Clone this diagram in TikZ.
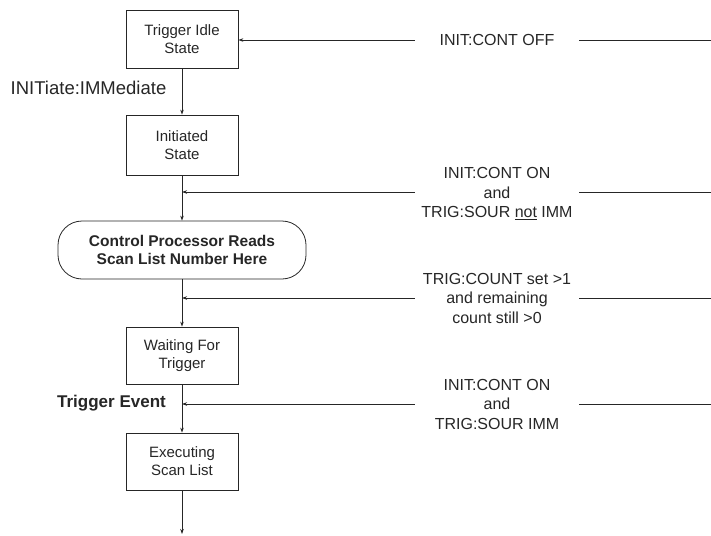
\documentclass[tikz,border=0pt]{standalone}
\usepackage{fontspec}
\setmainfont{Liberation Sans}
\usetikzlibrary{arrows.meta}
\definecolor{ink}{gray}{0.15}
\tikzset{
  stbox/.style={draw=ink, line width=0.8pt, minimum width=112pt, minimum height=58pt,
    align=center, inner sep=0pt, text=ink, font=\fontsize{15}{18}\selectfont},
  procbox/.style={draw=ink, line width=0.8pt, rounded corners=24pt, minimum width=248pt,
    minimum height=58pt, align=center, inner sep=0pt, text=ink, font=\bfseries\fontsize{15.5}{18}\selectfont},
  cond/.style={align=center, inner sep=0pt, minimum width=164pt, text=ink,
    font=\fontsize{16}{19.5}\selectfont},
  sidelab/.style={inner sep=0pt, text=ink},
  flow/.style={draw=ink, line width=0.7pt},
  arr/.style={flow, -{Stealth[length=5pt,width=3.5pt]}}
}
\begin{document}
\begin{tikzpicture}[x=1pt,y=-1pt]
\useasboundingbox (0,0) rectangle (711,535);
% states
\node[stbox] (idle) at (182,39.5) {Trigger Idle\\State};
\node[stbox, minimum height=60pt] (init) at (182,145) {Initiated\\State};
\node[procbox] (proc) at (182,250) {Control Processor Reads\\Scan List Number Here};
\node[stbox, minimum height=57pt] (wait) at (182,355.5) {Waiting For\\Trigger};
\node[stbox, minimum height=57pt] (exec) at (182,461.5) {Executing\\Scan List};
% left labels
\node[sidelab, font=\fontsize{18.5}{20}\selectfont] (immlab) at (88.5,88) {INITiate:IMMediate};
\node[sidelab, font=\bfseries\fontsize{17}{20}\selectfont] (trglab) at (111.5,403) {Trigger Event};
% junctions and free ends
\coordinate (j2) at (182,192);
\coordinate (j3) at (182,298);
\coordinate (j4) at (182,404);
\coordinate (r1) at (711,40);
\coordinate (r2) at (711,192);
\coordinate (r3) at (711,298);
\coordinate (r4) at (711,404);
\coordinate (endp) at (182,534);
% condition labels
\node[cond] (c1) at (497,40) {INIT:CONT OFF};
\node[cond] (c2) at (497,193.5) {INIT:CONT ON\\and\\TRIG:SOUR \underline{not} IMM};
\node[cond] (c3) at (497,298) {TRIG:COUNT set >1\\and remaining\\count still >0};
\node[cond] (c4) at (497,404) {INIT:CONT ON\\and\\TRIG:SOUR IMM};
% vertical flow
\draw[arr] (idle.south) -- (init.north);
\draw[arr] (init.south) -- (proc.north);
\draw[arr] (proc.south) -- (wait.north);
\draw[arr] (wait.south) -- (exec.north);
\draw[arr] (exec.south) -- (endp);
% return lines
\draw[flow] (r1) -- (c1.east |- r1);
\draw[arr] (c1.west |- r1) -- (idle.east |- r1);
\draw[flow] (r2) -- (c2.east |- r2);
\draw[arr] (c2.west |- r2) -- (j2);
\draw[flow] (r3) -- (c3.east |- r3);
\draw[arr] (c3.west |- r3) -- (j3);
\draw[flow] (r4) -- (c4.east |- r4);
\draw[arr] (c4.west |- r4) -- (j4);
\end{tikzpicture}
\end{document}
